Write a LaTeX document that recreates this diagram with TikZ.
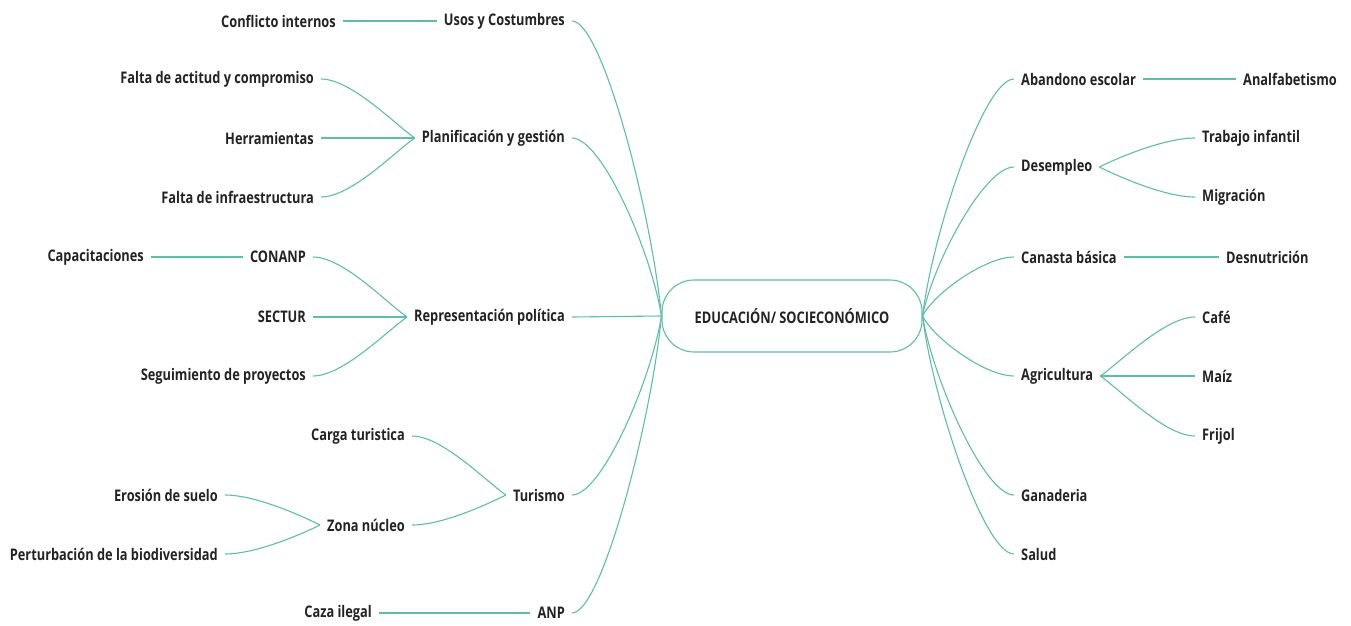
\documentclass[tikz,border=0pt]{standalone}
\usepackage{fontspec}
\setmainfont{Open Sans}[FakeStretch=0.8]
\definecolor{lineteal}{RGB}{95,190,168}
\definecolor{txt}{RGB}{35,35,35}
\tikzset{
  lbl/.style={font=\fontsize{16}{19}\selectfont\bfseries, text=txt, inner xsep=7pt, inner ysep=2pt},
  lblL/.style={lbl, anchor=east},
  lblR/.style={lbl, anchor=west},
  conn/.style={draw=lineteal, line width=1.1pt},
  hub/.style={draw=lineteal, line width=1.1pt, rounded corners=32pt, minimum width=260pt, minimum height=72pt, font=\fontsize{16}{19}\selectfont\bfseries, text=txt}
}
\begin{document}
\begin{tikzpicture}[x=1pt,y=-1pt]
\useasboundingbox (0,0) rectangle (1351,626);
\node[hub] (C) at (792,316) {EDUCACIÓN/ SOCIECONÓMICO};
% left level 1
\node[lblL] (usos) at (572,21) {Usos y Costumbres};
\node[lblL] (plan) at (572,138) {Planificación y gestión};
\node[lblL] (rep) at (572,317) {Representación política};
\node[lblL] (tur) at (572,495) {Turismo};
\node[lblL] (anp) at (572,613) {ANP};
% left level 2
\node[lblL] (conf) at (343,21) {Conflicto internos};
\node[lblL] (falta1) at (321,79) {Falta de actitud y compromiso};
\node[lblL] (herr) at (321,138) {Herramientas};
\node[lblL] (falta2) at (321,197) {Falta de infraestructura};
\node[lblL] (conanp) at (313,257) {CONANP};
\node[lblL] (sectur) at (313,317) {SECTUR};
\node[lblL] (seg) at (313,376) {Seguimiento de proyectos};
\node[lblL] (cap) at (151,257) {Capacitaciones};
\node[lblL] (carga) at (412,436) {Carga turistica};
\node[lblL] (zona) at (412,525) {Zona núcleo};
\node[lblL] (eros) at (225,495) {Erosión de suelo};
\node[lblL] (pert) at (225,554) {Perturbación de la biodiversidad};
\node[lblL] (caza) at (379,613) {Caza ilegal};
% right
\node[lblR] (aban) at (1014,79) {Abandono escolar};
\node[lblR] (anal) at (1236,79) {Analfabetismo};
\node[lblR] (desem) at (1014,167) {Desempleo};
\node[lblR] (trab) at (1195,138) {Trabajo infantil};
\node[lblR] (migr) at (1195,197) {Migración};
\node[lblR] (can) at (1014,257) {Canasta básica};
\node[lblR] (desn) at (1219,257) {Desnutrición};
\node[lblR] (agr) at (1014,376) {Agricultura};
\node[lblR] (cafe) at (1195,317) {Café};
\node[lblR] (maiz) at (1195,376) {Maíz};
\node[lblR] (frij) at (1195,436) {Frijol};
\node[lblR] (gan) at (1014,495) {Ganaderia};
\node[lblR] (sal) at (1014,554) {Salud};
% main connectors left
\draw[conn] (usos.east) .. controls +(30,0) and +(-10,-104) .. (C.west);
\draw[conn] (plan.east) .. controls +(30,0) and +(-10,-63) .. (C.west);
\draw[conn] (rep.east) -- (C.west);
\draw[conn] (tur.east) .. controls +(30,0) and +(-10,63) .. (C.west);
\draw[conn] (anp.east) .. controls +(30,0) and +(-10,104) .. (C.west);
% main connectors right
\draw[conn] (C.east) .. controls +(10,-83) and +(-30,0) .. (aban.west);
\draw[conn] (C.east) .. controls +(10,-52) and +(-30,0) .. (desem.west);
\draw[conn] (C.east) .. controls +(10,-21) and +(-30,0) .. (can.west);
\draw[conn] (C.east) .. controls +(10,21) and +(-30,0) .. (agr.west);
\draw[conn] (C.east) .. controls +(10,62) and +(-30,0) .. (gan.west);
\draw[conn] (C.east) .. controls +(10,83) and +(-30,0) .. (sal.west);
% left level 2 connectors
\draw[conn] (conf.east) -- (usos.west);
\draw[conn] (falta1.east) .. controls +(30,0) and +(-20,-14) .. (plan.west);
\draw[conn] (herr.east) -- (plan.west);
\draw[conn] (falta2.east) .. controls +(30,0) and +(-20,14) .. (plan.west);
\draw[conn] (conanp.east) .. controls +(30,0) and +(-20,-14) .. (rep.west);
\draw[conn] (sectur.east) -- (rep.west);
\draw[conn] (seg.east) .. controls +(30,0) and +(-20,14) .. (rep.west);
\draw[conn] (cap.east) -- (conanp.west);
\draw[conn] (carga.east) .. controls +(30,0) and +(-20,-14) .. (tur.west);
\draw[conn] (zona.east) .. controls +(30,0) and +(-20,10) .. (tur.west);
\draw[conn] (eros.east) .. controls +(30,0) and +(-20,-10) .. (zona.west);
\draw[conn] (pert.east) .. controls +(30,0) and +(-20,10) .. (zona.west);
\draw[conn] (caza.east) -- (anp.west);
% right level 2 connectors
\draw[conn] (aban.east) -- (anal.west);
\draw[conn] (desem.east) .. controls +(20,-10) and +(-30,0) .. (trab.west);
\draw[conn] (desem.east) .. controls +(20,10) and +(-30,0) .. (migr.west);
\draw[conn] (can.east) -- (desn.west);
\draw[conn] (agr.east) .. controls +(20,-14) and +(-30,0) .. (cafe.west);
\draw[conn] (agr.east) -- (maiz.west);
\draw[conn] (agr.east) .. controls +(20,14) and +(-30,0) .. (frij.west);
\end{tikzpicture}
\end{document}
